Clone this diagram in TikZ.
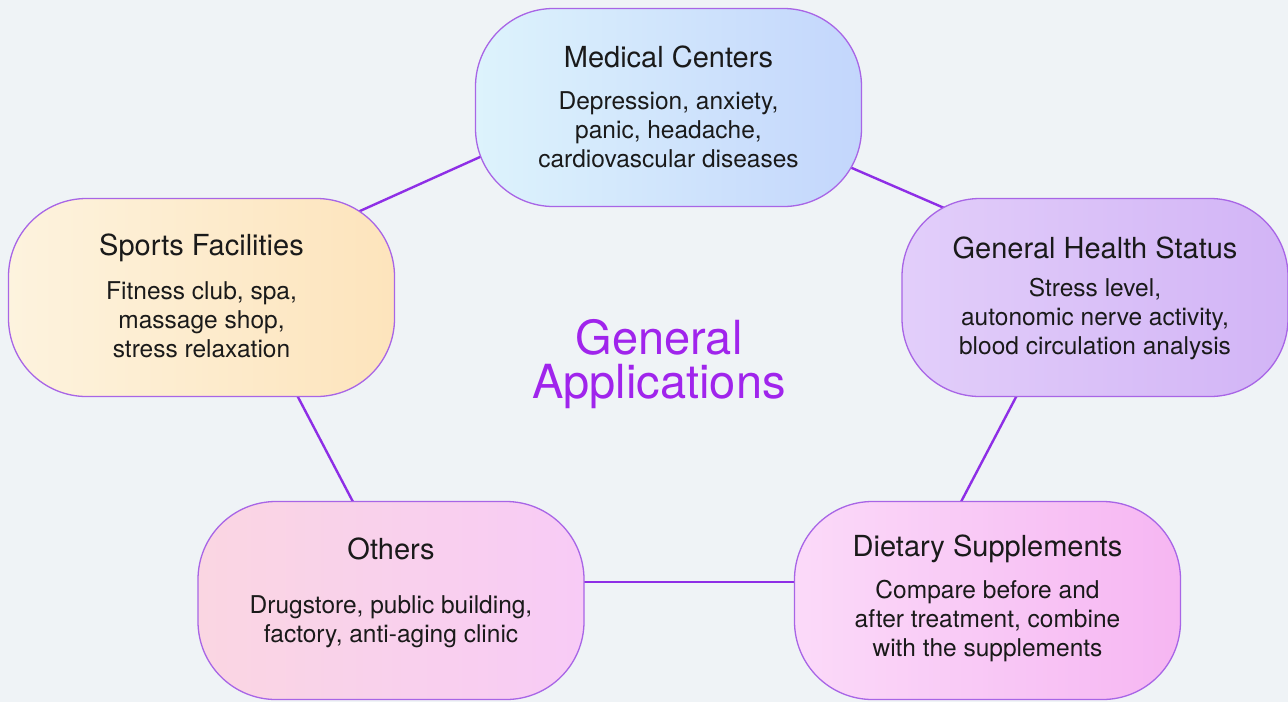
\documentclass[tikz,border=0pt]{standalone}
\usepackage{fontspec}
\setmainfont{TeX Gyre Heros}
\usetikzlibrary{calc,backgrounds}
\definecolor{bgc}{HTML}{EFF3F6}
\definecolor{linec}{HTML}{8E2EE6}
\definecolor{borderc}{HTML}{A865E6}
\definecolor{titlec}{HTML}{A024EC}
\definecolor{txt}{HTML}{1A1A1A}
\definecolor{medL}{HTML}{DDF3FC}\definecolor{medR}{HTML}{C3D6FC}
\definecolor{spoL}{HTML}{FDF3DE}\definecolor{spoR}{HTML}{FDE4BC}
\definecolor{ghsL}{HTML}{E2CEFA}\definecolor{ghsR}{HTML}{D2B4F6}
\definecolor{othL}{HTML}{FAD6E2}\definecolor{othR}{HTML}{F8CBF6}
\definecolor{dieL}{HTML}{FBDAF9}\definecolor{dieR}{HTML}{F6B6F2}
\tikzset{
  appbox/.style 2 args={draw=borderc, line width=1.3pt, rounded corners=78pt,
    minimum width=386pt, minimum height=198pt, inner sep=0pt,
    left color=#1, right color=#2},
  headtext/.style={font=\fontsize{29}{34}\selectfont, text=txt, inner sep=0pt},
  bodytext/.style={font=\fontsize{24.5}{29}\selectfont, text=txt, align=center, inner sep=0pt},
  link/.style={draw=linec, line width=2.4pt},
  bigtitle/.style={font=\fontsize{47}{44}\selectfont, text=titlec, align=center, inner sep=0pt}
}
\begin{document}
\begin{tikzpicture}[x=1pt,y=-1pt]
\useasboundingbox (0,0) rectangle (1288,702);
% boxes
\node[appbox={medL}{medR}] (med) at (668.5,107.5) {};
\node[appbox={spoL}{spoR}] (spo) at (201.5,297.5) {};
\node[appbox={ghsL}{ghsR}] (ghs) at (1095,297.5) {};
\node[appbox={othL}{othR}] (oth) at (391,600.5) {};
\node[appbox={dieL}{dieR}] (die) at (987.5,600.5) {};
% headings
\node[headtext] (medh) at ($(med.center)+(0,-51)$) {Medical Centers};
\node[headtext] (spoh) at ($(spo.center)+(0,-50)$) {Sports Facilities};
\node[headtext] (ghsh) at ($(ghs.center)+(0,-50)$) {General Health Status};
\node[headtext] (othh) at ($(oth.center)+(0,-52)$) {Others};
\node[headtext] (dieh) at ($(die.center)+(0,-52)$) {Dietary Supplements};
% bodies
\node[bodytext] (medb) at ($(med.center)+(0,22)$) {Depression, anxiety,\\panic, headache,\\cardiovascular diseases};
\node[bodytext] (spob) at ($(spo.center)+(0,22)$) {Fitness club, spa,\\massage shop,\\stress relaxation};
\node[bodytext] (ghsb) at ($(ghs.center)+(0,22)$) {Stress level,\\autonomic nerve activity,\\blood circulation analysis};
\node[bodytext] (othb) at ($(oth.center)+(0,21)$) {Drugstore, public building,\\factory, anti-aging clinic};
\node[bodytext] (dieb) at ($(die.center)+(0,21)$) {Compare before and\\after treatment, combine\\with the supplements};
% title
\node[bigtitle] (title) at (659,364) {General\\Applications};
% background and links
\begin{scope}[on background layer]
\fill[bgc] (0,0) rectangle (1288,702);
\draw[link] ($(med.center)+(-168.5,40.5)$) -- ($(spo.center)+(138.5,-77.5)$);
\draw[link] ($(med.center)+(161.5,51)$) -- ($(ghs.center)+(-130,-80.5)$);
\draw[link] ($(ghs.center)+(-69,80.5)$) -- ($(die.center)+(-35.5,-81.5)$);
\draw[link] ($(spo.center)+(86.5,80.5)$) -- ($(oth.center)+(-29,-81.5)$);
\draw[link] ($(oth.center)+(0,-18.5)$) -- ($(die.center)+(0,-18.5)$);
\end{scope}
\end{tikzpicture}
\end{document}
